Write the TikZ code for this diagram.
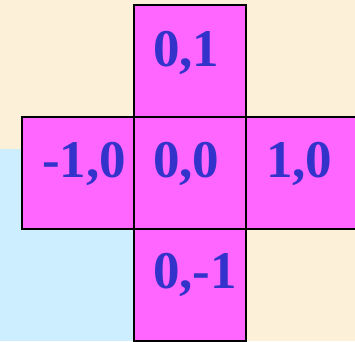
\documentclass[tikz,border=0pt]{standalone}
\usepackage{fontspec}
\setmainfont{Liberation Serif}
\definecolor{parch}{HTML}{FDF0D9}
\definecolor{skyb}{HTML}{CCEEFF}
\definecolor{mag}{HTML}{FF66FF}
\definecolor{txtb}{HTML}{3333CC}
\begin{document}
\begin{tikzpicture}[x=1pt,y=-1pt,
  cell/.style={draw=black,fill=mag,line width=2.6pt},
  lab/.style={anchor=base west,inner sep=0pt,text=txtb,font=\fontsize{53}{60}\selectfont\bfseries}]
\useasboundingbox (0,0) rectangle (355,341);
\fill[parch] (0,0) rectangle (355,341);
\fill[skyb] (0,149) rectangle (134,341);
\draw[cell] (134,5) rectangle (246,117);
\draw[cell] (22,117) rectangle (134,229);
\draw[cell] (134,117) rectangle (246,229);
\draw[cell] (246,117) rectangle (356,229);
\draw[cell] (134,229) rectangle (246,341);
\node[lab] (n01) at (153,66) {0,1};
\node[lab] (nm10) at (42,177) {-1,0};
\node[lab] (n00) at (153,177) {0,0};
\node[lab] (n10) at (266,177) {1,0};
\node[lab] (n0m1) at (153,288) {0,-1};
\end{tikzpicture}
\end{document}
